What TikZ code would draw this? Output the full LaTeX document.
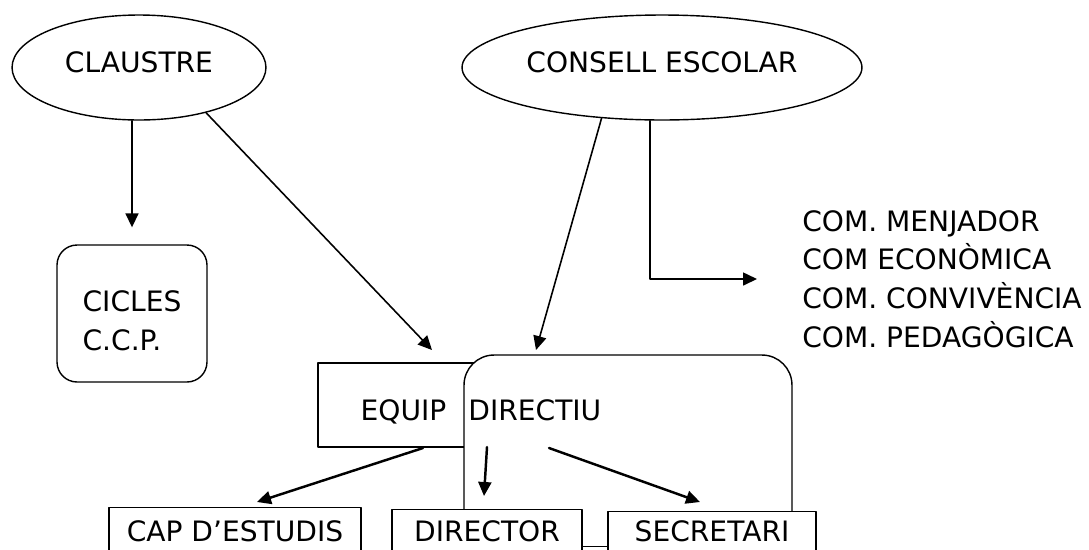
\documentclass[tikz,border=0pt]{standalone}
\usepackage{fontspec}
\setmainfont{DejaVu Sans}
\usetikzlibrary{arrows.meta,shapes.geometric}

\begin{document}
\begin{tikzpicture}[line cap=round,line join=round,>={Triangle[length=0.28cm,width=0.26cm]},x=0.02cm,y=-0.02cm,
    every node/.style={font=\fontsize{16}{22}\selectfont},
    oval/.style={draw=black,ellipse,line width=0.8pt,minimum height=2.1cm,text depth=0.22cm},
    box/.style={draw=black,rectangle,line width=0.8pt,fill=white},
    link/.style={->,color=black,line width=0.9pt},
    thicklink/.style={->,color=black,line width=1.4pt}]
    \useasboundingbox (0,0) rectangle (1089,549);
    \clip (0,0) rectangle (1089,549);
    \node[oval,minimum width=5.08cm] (claustre) at (139,67.5) {CLAUSTRE\hspace{0.44cm}};
    \node[oval,minimum width=7.6cm] (consell) at (662,67.5) {CONSELL ESCOLAR\hspace{0.36cm}};
    \node[box,rounded corners=0.4cm,minimum width=3cm,minimum height=2.74cm,align=left,
        font=\fontsize{16}{22.7}\selectfont] (cicles) at (132,313.5) {\rule{0pt}{0.71cm}CICLES\\C.C.P.};
    \node[anchor=west,inner sep=0pt,align=left] (coms) at (802,279)
        {COM. MENJADOR\\COM ECONÒMICA\\COM. CONVIVÈNCIA\\COM. PEDAGÒGICA};
    % equip directiu
    \node[box,minimum width=5.64cm,minimum height=1.68cm] (equip) at (459,405) {};
    \node[box,rounded corners=0.6cm,minimum width=6.56cm,minimum height=5.3cm] (directiu) at (628,487.5) {};
    \node[box,anchor=north,minimum width=1.4cm,minimum height=1cm] (vocal) at (595,546) {};
    \foreach \name/\xc/\yt/\w/\th/\txt in {cap/235/507/5.04/0.68/CAP D’ESTUDIS,director/487/509/3.8/0.64/DIRECTOR,secretari/712/511/4.16/0.6/SECRETARI}
    \node[box,anchor=north,minimum width=\w cm,text height=\th cm,text depth=1cm,inner ysep=0pt] (\name) at (\xc,\yt) {\txt};
    \node[anchor=base] (equiptxt) at (481,420) {EQUIP\hspace{0.44cm}DIRECTIU};
    % arrows
    \coordinate (equipin) at (432,350);
    \coordinate (directiuin) at (536,350);
    \draw[link,shorten >=0.34cm] (claustre.south -| cicles.north) -- (cicles.north);
    \draw[link] (claustre.-34) -- (equipin);
    \draw[link] (consell.220) -- (directiuin);
    \draw[link,shorten >=0.9cm] ([xshift=-0.24cm]consell.south) |- (coms.west);
    \coordinate (capout) at (423,448);
    \coordinate (capin) at (257,502);
    \coordinate (directorout) at (487,447);
    \coordinate (directorin) at (484,496);
    \coordinate (secretariout) at (549,448);
    \coordinate (secretariin) at (700,502);
    \foreach \a/\b in {capout/capin,directorout/directorin,secretariout/secretariin}
    \draw[thicklink] (\a) -- (\b);
\end{tikzpicture}
\end{document}
